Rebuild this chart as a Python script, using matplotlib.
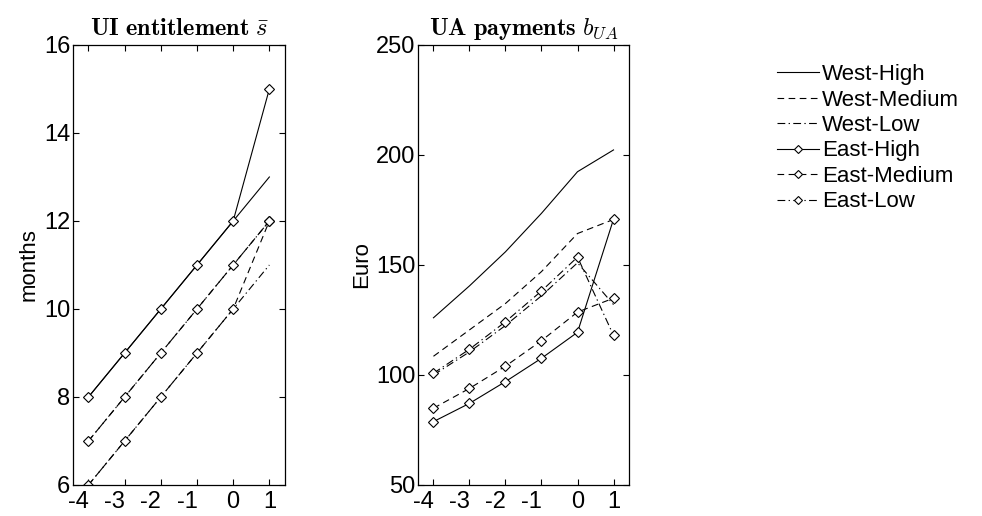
import numpy as np
import matplotlib
matplotlib.use("Agg")
import matplotlib.pyplot as plt
from matplotlib.transforms import ScaledTranslation

plt.rcParams['font.family'] = ['Liberation Sans', 'DejaVu Sans']
plt.rcParams['mathtext.fontset'] = 'cm'

# data
years = [-4, -3, -2, -1, 0, 1]
xlabels = ['-4', '-3', '-2', '-1', '0', '1']
series = ['West-High', 'West-Medium', 'West-Low', 'East-High', 'East-Medium', 'East-Low']

ui_west_high = [8, 9, 10, 11, 12, 13]
ui_west_med = [7, 8, 9, 10, 11, 12]
ui_west_low = [6, 7, 8, 9, 10, 11]
ui_east_high = [8, 9, 10, 11, 12, 15]
ui_east_med = [6, 7, 8, 9, 10, 12]
ui_east_low = [7, 8, 9, 10, 11, 12]

ua_west_high = [126, 140.5, 156, 173.5, 192.4, 202.3]
ua_west_med = [108.5, 120.5, 132.5, 147, 164.3, 170.7]
ua_west_low = [100, 110.5, 122.5, 136, 151, 132]
ua_east_high = [78.8, 87.1, 97, 107.6, 119.4, 170.8]
ua_east_med = [84.9, 93.9, 104, 115.6, 128.6, 134.9]
ua_east_low = [100.8, 111.7, 124.2, 138.2, 153.6, 118]

# (linestyle, dash pattern, marker) per series
styles = [
    ('-', None, None),
    ('--', (6, 4), None),
    ('-.', (7, 3, 1.2, 3), None),
    ('-', None, 'D'),
    ('--', (6, 4), 'D'),
    ('-.', (7, 3, 1.2, 3), 'D'),
]

fig = plt.figure(figsize=(9.82, 5.16), dpi=100)
ax1 = fig.add_axes([0.0746, 0.0601, 0.2159, 0.8527])
ax2 = fig.add_axes([0.4260, 0.0601, 0.2149, 0.8527])

def draw(ax, data):
    lines = []
    for vals, (ls, dash, mk), name in zip(data, styles, series):
        ln, = ax.plot(years, vals, color='black', lw=0.8, linestyle=ls,
                      marker=mk, markersize=5.5, markerfacecolor='white',
                      markeredgecolor='black', markeredgewidth=0.8, label=name)
        if dash is not None:
            ln.set_dashes(dash)
        lines.append(ln)
    ax.set_xlim(-4.42, 1.44)
    ax.set_xticks(years)
    ax.set_xticklabels(xlabels)
    ax.tick_params(direction='in', top=True, right=True, length=4,
                   width=0.8, labelsize=17, pad=2)
    ax.tick_params(axis='x', pad=4.5)
    for s in ax.spines.values():
        s.set_linewidth(0.9)
    # negative labels sit a bit left of their ticks in the original
    shift = ScaledTranslation(-0.10, 0, fig.dpi_scale_trans)
    for lab, txt in zip(ax.get_xticklabels(), xlabels):
        if txt.startswith('-'):
            lab.set_transform(lab.get_transform() + shift)
    return lines

lines = draw(ax1, [ui_west_high, ui_west_med, ui_west_low,
                   ui_east_high, ui_east_med, ui_east_low])
ax1.set_ylim(6, 16)
ax1.set_yticks([6, 8, 10, 12, 14, 16])
ax1.set_ylabel('months', fontsize=16, labelpad=3)
ax1.set_title(r'$\mathbf{UI\ entitlement}\ \bar{s}$', fontsize=17.5, pad=7)

draw(ax2, [ua_west_high, ua_west_med, ua_west_low,
           ua_east_high, ua_east_med, ua_east_low])
ax2.set_ylim(50, 250)
ax2.set_yticks([50, 100, 150, 200, 250])
ax2.set_ylabel('Euro', fontsize=16, labelpad=3)
ax2.set_title(r'$\mathbf{UA\ payments}\ b_{UA}$', fontsize=17.5, pad=7)

fig.legend(handles=lines, loc='upper left', bbox_to_anchor=(0.782, 0.893),
           frameon=False, fontsize=16, handlelength=1.9, handletextpad=0.15,
           labelspacing=0.2, borderaxespad=0, markerscale=0.8)

fig.savefig('out.png', dpi=100)
